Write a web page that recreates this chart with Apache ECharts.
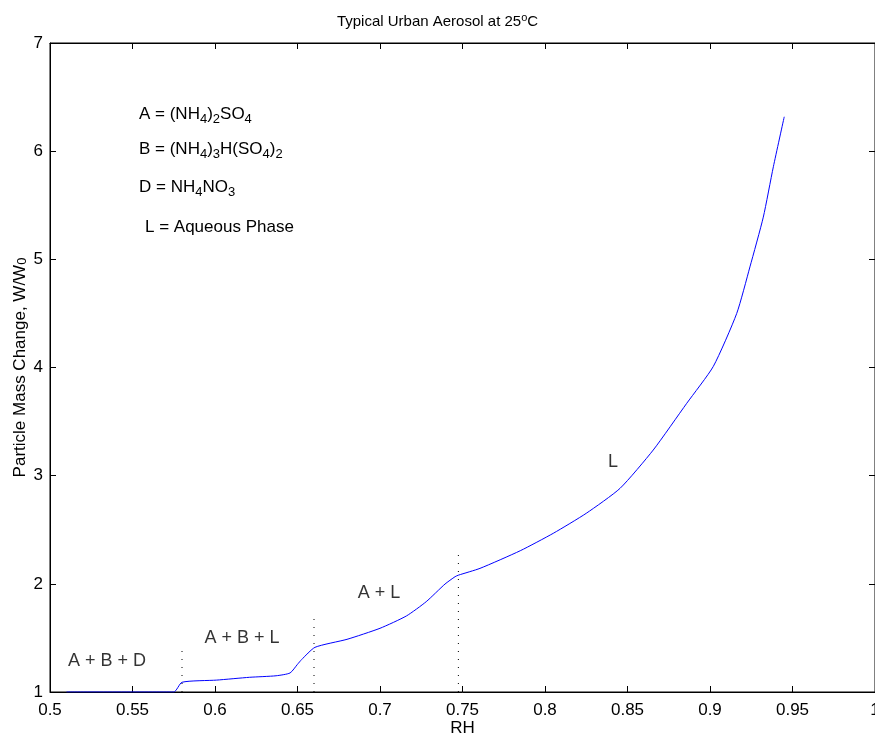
<!DOCTYPE html>
<html>
<head>
<meta charset="utf-8">
<script src="https://cdn.jsdelivr.net/npm/echarts@6/dist/echarts.min.js"></script>
<style>html,body{margin:0;padding:0;background:#fff}#c{width:875px;height:738px}</style>
</head>
<body>
<div id="c"></div>
<script>
// Relative humidity (x) and particle mass change W/W0 (y)
const rhValues = [0.510, 0.575, 0.580, 0.601, 0.621, 0.637, 0.6455, 0.650, 0.6525, 0.6606, 0.680, 0.700, 0.716, 0.728, 0.7394, 0.7455, 0.7475, 0.7606, 0.785, 0.805, 0.825, 0.8455, 0.8656, 0.8859, 0.902, 0.9162, 0.9242, 0.9323, 0.9384, 0.945];
const massRatio = [1.0, 1.0, 1.09, 1.11, 1.136, 1.15, 1.176, 1.256, 1.30, 1.413, 1.487, 1.589, 1.703, 1.835, 1.998, 2.066, 2.08, 2.143, 2.306, 2.467, 2.652, 2.883, 3.237, 3.669, 4.01, 4.50, 4.93, 5.39, 5.856, 6.318];
// Phase boundaries (dotted markers): x, top value
const boundaryRH = [0.58, 0.66, 0.7475];
const boundaryTop = [1.40, 1.72, 2.29];
// Region labels
const regionNames = ['A + B + D', 'A + B + L', 'A + L', 'L'];
const regionRH = [0.5345, 0.6164, 0.6994, 0.8412];
const regionW = [1.29, 1.50, 1.915, 3.13];
const xTicks = [0.5, 0.55, 0.6, 0.65, 0.7, 0.75, 0.8, 0.85, 0.9, 0.95, 1];
const yTicks = [1, 2, 3, 4, 5, 6, 7];

const FONT = 'Liberation Sans, Arial, Helvetica, sans-serif';
const chart = echarts.init(document.getElementById('c'));

const series = [{
  type: 'line',
  data: rhValues.map((x, i) => [x, massRatio[i]]),
  showSymbol: false,
  smooth: 0.2,
  lineStyle: { color: '#0000ff', width: 1 },
  silent: true,
  z: 5
}];
boundaryRH.forEach((x, i) => {
  series.push({
    type: 'line',
    data: [[x, 1], [x, boundaryTop[i]]],
    showSymbol: false,
    lineStyle: { color: '#000', width: 1, type: [1, 7] },
    silent: true,
    z: 4
  });
});
series.push({
  type: 'scatter',
  data: regionRH.map((x, i) => [x, regionW[i], regionNames[i]]),
  symbolSize: 0,
  silent: true,
  label: {
    show: true, position: 'inside', formatter: p => p.data[2],
    color: '#000', fontSize: 18, fontFamily: FONT
  }
});

const rich = {
  n: { fontSize: 17, fontFamily: FONT, color: '#000', lineHeight: 22 },
  s: { fontSize: 13, fontFamily: FONT, color: '#000', padding: [10, 0, 0, 0], lineHeight: 22 }
};

chart.setOption({
  animation: false,
  backgroundColor: '#fff',
  title: {
    text: '{n|Typical Urban Aerosol at 25}{sup|o}{n|C}',
    left: 'center', top: 7,
    textStyle: {
      fontWeight: 'normal',
      rich: {
        n: { fontSize: 15, fontFamily: FONT, color: '#000', fontWeight: 'normal' },
        sup: { fontSize: 11, fontFamily: FONT, color: '#000', fontWeight: 'normal', padding: [0, 0, 9, 0] }
      }
    }
  },
  grid: { left: 50, right: 0, top: 43, bottom: 46, show: true, borderColor: '#000', borderWidth: 1, outerBoundsMode: 'none', containLabel: false },
  xAxis: [{
    type: 'value', min: 0.5, max: 1, interval: 0.05,
    name: 'RH', nameLocation: 'middle', nameGap: 28, nameMoveOverlap: false,
    nameTextStyle: { fontSize: 17, fontFamily: FONT, color: '#000' },
    axisLine: { show: true, lineStyle: { color: '#000' } },
    axisTick: { show: true, inside: true, length: 6, lineStyle: { color: '#000' } },
    axisLabel: { fontSize: 17, fontFamily: FONT, color: '#000', margin: 10,
      formatter: v => { const r = Math.round(v * 100) / 100; return xTicks.includes(r) ? String(r) : ''; } },
    splitLine: { show: false }
  }, {
    type: 'value', min: 0.5, max: 1, interval: 0.05, position: 'top',
    axisLine: { show: true, lineStyle: { color: '#000' } },
    axisTick: { show: true, inside: true, length: 6, lineStyle: { color: '#000' } },
    axisLabel: { show: false }, splitLine: { show: false }
  }],
  yAxis: [{
    type: 'value', min: 1, max: 7, interval: 1,
    name: '{n|Particle Mass Change, W/W}{s|0}', nameLocation: 'middle', nameGap: 21, nameMoveOverlap: false,
    nameTextStyle: { rich: {
      n: { fontSize: 17, fontFamily: FONT, color: '#000' },
      s: { fontSize: 13, fontFamily: FONT, color: '#000', verticalAlign: 'bottom' }
    } },
    axisLine: { show: true, lineStyle: { color: '#000' } },
    axisTick: { show: true, inside: true, length: 6, lineStyle: { color: '#000' } },
    axisLabel: { fontSize: 17, fontFamily: FONT, color: '#000', margin: 7,
      formatter: v => yTicks.includes(v) ? String(v) : '' },
    splitLine: { show: false }
  }, {
    type: 'value', min: 1, max: 7, interval: 1, position: 'right',
    axisLine: { show: true, lineStyle: { color: '#000' } },
    axisTick: { show: true, inside: true, length: 6, lineStyle: { color: '#000' } },
    axisLabel: { show: false }, splitLine: { show: false }
  }],
  graphic: [
    { type: 'text', left: 139, top: 103, style: { text: '{n|A = (NH}{s|4}{n|)}{s|2}{n|SO}{s|4}', rich: rich } },
    { type: 'text', left: 139, top: 138, style: { text: '{n|B = (NH}{s|4}{n|)}{s|3}{n|H(SO}{s|4}{n|)}{s|2}', rich: rich } },
    { type: 'text', left: 139, top: 176, style: { text: '{n|D = NH}{s|4}{n|NO}{s|3}', rich: rich } },
    { type: 'text', left: 145, top: 219, style: { text: '{n|L = Aqueous Phase}', rich: rich } }
  ],
  series: series
});
</script>
</body>
</html>
